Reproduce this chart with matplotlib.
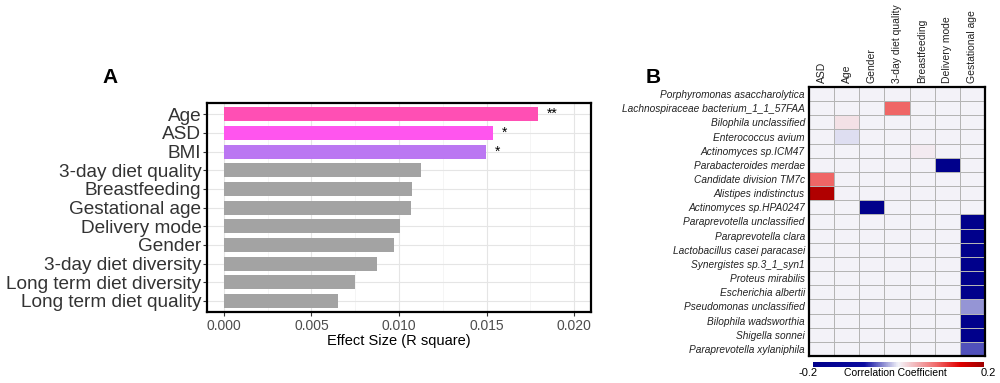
import numpy as np
import matplotlib
matplotlib.use("Agg")
import matplotlib.pyplot as plt
from matplotlib.colors import LinearSegmentedColormap

plt.rcParams['font.family'] = ['Liberation Sans', 'DejaVu Sans']

# ---- panel A data ----
factors = ['Age', 'ASD', 'BMI', '3-day diet quality', 'Breastfeeding',
           'Gestational age', 'Delivery mode', 'Gender', '3-day diet diversity',
           'Long term diet diversity', 'Long term diet quality']
r_square = [0.01796, 0.01535, 0.01498, 0.01127, 0.01076, 0.01066,
            0.01007, 0.00974, 0.00872, 0.0075, 0.0065]
signif = ['**', '*', '*', '', '', '', '', '', '', '', '']
bar_colors = ['#FF4FB4', '#FF55EE', '#BB77F2'] + ['#A3A3A3'] * 8

# ---- panel B data ----
covariates = ['ASD', 'Age', 'Gender', '3-day diet quality', 'Breastfeeding',
              'Delivery mode', 'Gestational age']
taxa = ['Porphyromonas asaccharolytica', 'Lachnospiraceae bacterium_1_1_57FAA',
        'Bilophila unclassified', 'Enterococcus avium', 'Actinomyces sp.ICM47',
        'Parabacteroides merdae', 'Candidate division TM7c', 'Alistipes indistinctus',
        'Actinomyces sp.HPA0247', 'Paraprevotella unclassified', 'Paraprevotella clara',
        'Lactobacillus casei paracasei', 'Synergistes sp.3_1_syn1', 'Proteus mirabilis',
        'Escherichia albertii', 'Pseudomonas unclassified', 'Bilophila wadsworthia',
        'Shigella sonnei', 'Paraprevotella xylaniphila']
# rows = taxa, columns = covariates
corr = [
    [0, 0, 0, 0, 0, 0, 0],
    [0, 0, 0, 0.09, 0, 0, 0],
    [0, 0.012, 0, 0, 0, 0, 0],
    [0, -0.007, 0, 0, 0, 0, 0],
    [0, 0, 0, 0, 0.006, 0, 0],
    [0, 0, 0, 0, 0, -0.2, 0],
    [0.09, 0, 0, 0, 0, 0, 0],
    [0.185, 0, 0, 0, 0, 0, 0],
    [0, 0, -0.2, 0, 0, 0, 0],
    [0, 0, 0, 0, 0, 0, -0.2],
    [0, 0, 0, 0, 0, 0, -0.2],
    [0, 0, 0, 0, 0, 0, -0.2],
    [0, 0, 0, 0, 0, 0, -0.2],
    [0, 0, 0, 0, 0, 0, -0.2],
    [0, 0, 0, 0, 0, 0, -0.2],
    [0, 0, 0, 0, 0, 0, -0.032],
    [0, 0, 0, 0, 0, 0, -0.2],
    [0, 0, 0, 0, 0, 0, -0.2],
    [0, 0, 0, 0, 0, 0, -0.055],
]

fig = plt.figure(figsize=(10, 3.83), dpi=100)

# ---------------- Panel A ----------------
axA = fig.add_axes([0.207, 0.185, 0.384, 0.546])
ypos = np.arange(len(factors))[::-1]
axA.barh(ypos, r_square, height=0.75, color=bar_colors, zorder=3)
for y, v, s in zip(ypos, r_square, signif):
    if s:
        axA.text(v + 0.0005, y, s, va='center', ha='left', fontsize=10, zorder=4)

axA.set_xlim(-0.00097, 0.02097)
axA.set_ylim(-0.6, len(factors) - 0.4)
axA.set_xticks([0, 0.005, 0.01, 0.015, 0.02])
axA.set_xticklabels(['0.000', '0.005', '0.010', '0.015', '0.020'])
axA.set_xticks([0.0025, 0.0075, 0.0125, 0.0175], minor=True)
axA.set_yticks(ypos)
axA.set_yticklabels(factors, fontsize=13.7, color='#333333')
axA.tick_params(axis='x', labelsize=10, labelcolor='#4D4D4D', length=3, color='#333333', pad=2)
axA.tick_params(axis='y', length=3, color='#333333', pad=1)
axA.tick_params(axis='x', which='minor', length=0)
axA.grid(True, which='major', color='#E5E5E5', lw=0.8, zorder=0)
axA.grid(True, which='minor', axis='x', color='#F2F2F2', lw=0.5, zorder=0)
for sp in axA.spines.values():
    sp.set_linewidth(1.6)
    sp.set_color('black')
axA.set_xlabel('Effect Size (R square)', fontsize=10.5, labelpad=1)
fig.text(0.110, 0.797, 'A', fontsize=15, fontweight='bold', ha='center', va='center')

# ---------------- Panel B ----------------
cmap = LinearSegmentedColormap.from_list('rwb', [
    (0.0, '#00008B'), (0.3, '#0A0AA0'), (0.5, '#F3F3F9'),
    (0.72, '#F06A6A'), (0.86, '#E00000'), (1.0, '#A00000')])

axB = fig.add_axes([0.809, 0.0705, 0.176, 0.7025])
data = np.array(corr)
mesh = axB.pcolormesh(data, cmap=cmap, vmin=-0.2, vmax=0.2,
                      edgecolors='#B4B4B4', linewidth=0.6)
axB.set_xlim(0, len(covariates))
axB.set_ylim(len(taxa), 0)
axB.xaxis.tick_top()
axB.set_xticks(np.arange(len(covariates)) + 0.5)
axB.set_xticklabels(covariates, rotation=90, fontsize=7.5, color='#222222')
axB.set_yticks(np.arange(len(taxa)) + 0.5)
axB.set_yticklabels(taxa, fontsize=7.3, style='italic', color='#222222')
axB.tick_params(length=0, pad=3)
for sp in axB.spines.values():
    sp.set_linewidth(1.6)
    sp.set_color('black')
fig.text(0.653, 0.797, 'B', fontsize=15, fontweight='bold', ha='center', va='center')

# colorbar
cax = fig.add_axes([0.813, 0.0418, 0.171, 0.013])
cb = fig.colorbar(mesh, cax=cax, orientation='horizontal')
cb.set_ticks([])
cb.outline.set_visible(False)
fig.text(0.808, 0.025, '-0.2', fontsize=8, ha='center', va='center')
fig.text(0.988, 0.025, '0.2', fontsize=8, ha='center', va='center')
fig.text(0.895, 0.025, 'Correlation Coefficient', fontsize=7.5, ha='center', va='center')

fig.savefig('out.png', dpi=100)
